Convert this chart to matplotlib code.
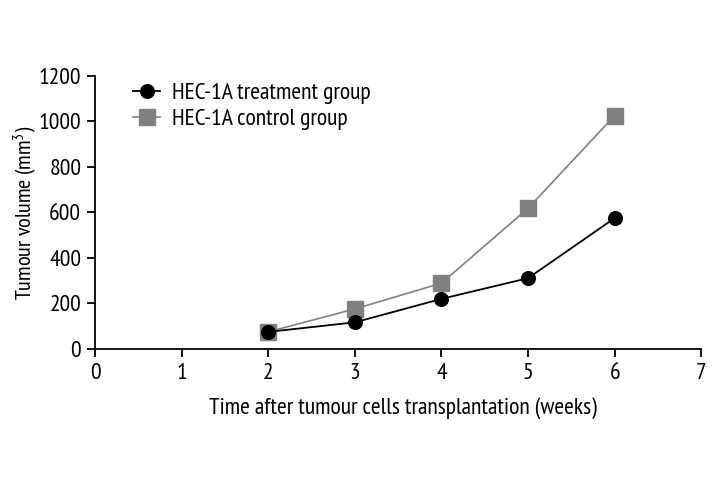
import matplotlib
matplotlib.use("Agg")
import matplotlib.pyplot as plt
from matplotlib import font_manager

weeks = [2, 3, 4, 5, 6]
treatment = [75, 117, 220, 311, 575]
control = [75, 176, 289, 618, 1025]
xticks = [0, 1, 2, 3, 4, 5, 6, 7]
yticks = [0, 200, 400, 600, 800, 1000, 1200]

names = {f.name for f in font_manager.fontManager.ttflist}
fam = 'DejaVu Sans'
for cand in ["PT Sans Narrow", "Roboto Condensed", "Fira Sans Condensed",
             "Open Sans Condensed", "IBM Plex Sans Condensed", "Liberation Sans Narrow"]:
    if cand in names:
        fam = cand
        break
plt.rcParams['font.family'] = [fam, 'DejaVu Sans']
plt.rcParams['mathtext.fontset'] = 'custom'
plt.rcParams['mathtext.rm'] = fam
plt.rcParams['font.size'] = 17

fig = plt.figure(figsize=(7.2, 4.8), dpi=100)
ax = fig.add_axes([0.132, 0.273, 0.842, 0.569])

ax.plot(weeks, treatment, color='black', lw=1.3, marker='o', ms=9.8,
        label='HEC-1A treatment group', zorder=3)
ax.plot(weeks, control, color='#808080', lw=1.2, marker='s', ms=11.3,
        label='HEC-1A control group', zorder=2)

ax.set_xlim(0, 7)
ax.set_ylim(0, 1200)
ax.set_xticks(xticks)
ax.set_yticks(yticks)
for s in ['top', 'right']:
    ax.spines[s].set_visible(False)
for s in ['left', 'bottom']:
    ax.spines[s].set_linewidth(1.3)
ax.tick_params(direction='out', length=6, width=1.3, labelsize=17, pad=4)
ax.set_xlabel('Time after tumour cells transplantation (weeks)', fontsize=17)
ax.set_ylabel('Tumour volume (mm$\\mathregular{^3}$)', fontsize=16)
ax.xaxis.set_label_coords(0.508, -0.178, transform=ax.transAxes)
ax.yaxis.set_label_coords(-0.092, 0.5, transform=ax.transAxes)

leg = ax.legend(loc='upper left', bbox_to_anchor=(0.063, 0.975), frameon=False,
                handlelength=1.15, handletextpad=0.5, labelspacing=0.2,
                fontsize=17, borderaxespad=0, borderpad=0)

fig.savefig('out.png', dpi=100)
